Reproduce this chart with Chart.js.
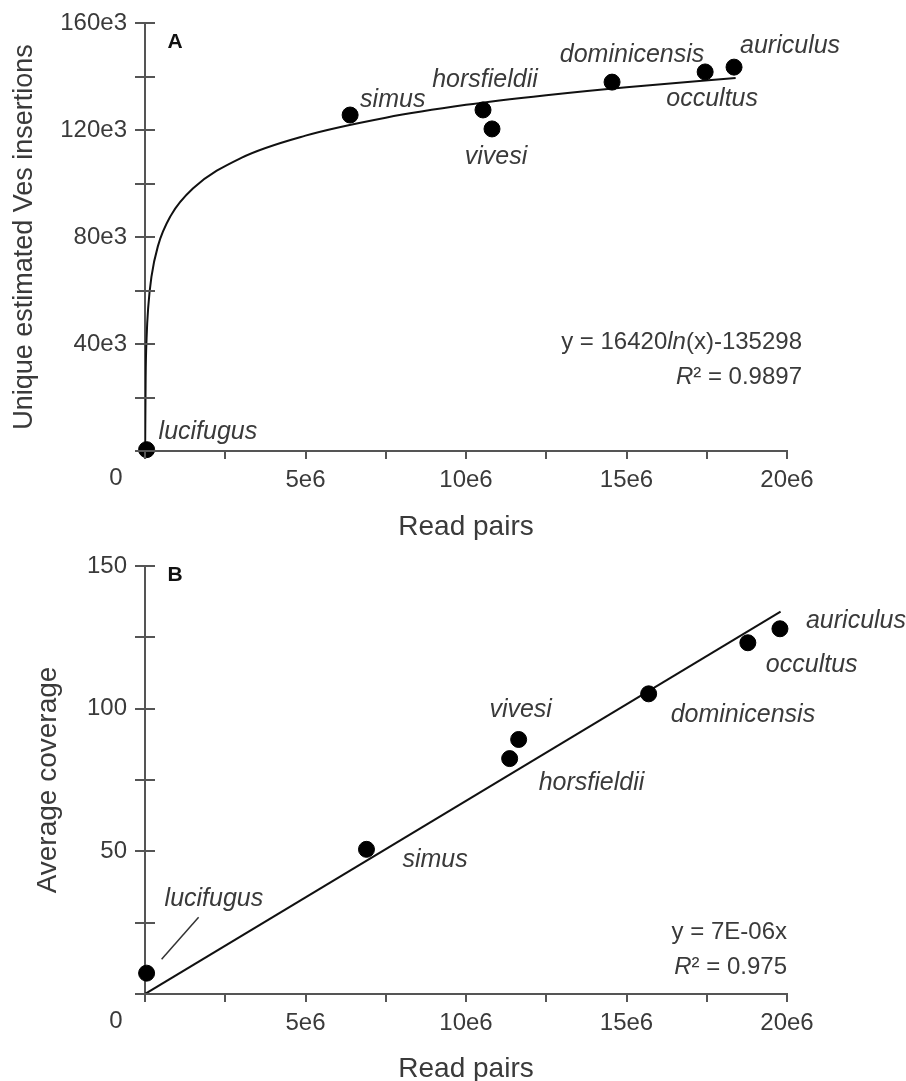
<!DOCTYPE html>
<html>
<head>
<meta charset="utf-8">
<script src="https://cdn.jsdelivr.net/npm/chart.js@4.4.0/dist/chart.umd.min.js"></script>
<style>
  body { margin: 0; background: #fff; }
  #wrapA { position: absolute; left: 0; top: 0; }
  #wrapB { position: absolute; left: 0; top: 540px; }
</style>
</head>
<body>
<div id="wrapA"><canvas id="chartA" width="906" height="540"></canvas></div>
<div id="wrapB"><canvas id="chartB" width="906" height="541"></canvas></div>
<script>
// species, same order in both panels
const species = ['lucifugus', 'simus', 'horsfieldii', 'vivesi', 'dominicensis', 'occultus', 'auriculus'];

// panel A: read pairs vs unique estimated Ves insertions
const readsA = [0.05e6, 6.39e6, 10.53e6, 10.81e6, 14.55e6, 17.45e6, 18.35e6];
const insertionsA = [500, 125600, 127500, 120400, 137900, 141700, 143500];

// log fit curve
const curveReadsA = [0.004e6, 0.02e6, 0.05e6, 0.1e6, 0.2e6, 0.4e6, 0.8e6, 1.5e6, 3e6, 5e6, 7.5e6, 10e6, 12.5e6, 15e6, 18.4e6];
const curveInsA = [0, 27300, 42400, 53700, 65100, 76500, 87900, 98200, 109600, 117900, 124600, 129400, 133000, 136000, 139400];

// panel B: read pairs vs average coverage
const readsB = [0.05e6, 6.9e6, 11.36e6, 11.64e6, 15.69e6, 18.78e6, 19.78e6];
const coverageB = [7.3, 50.7, 82.5, 89.2, 105.2, 123.1, 128];

// linear fit line ends
const fitReadsB = [0, 19.8e6];
const fitCoverageB = [0, 134];

const eqA = [['y = 16420', false], ['ln', true], ['(x)-135298', false]];
const r2A = [['R', true], ['² = 0.9897', false]];
const eqB = [['y = 7E-06x', false]];
const r2B = [['R', true], ['² = 0.975', false]];

// label placement relative to each point: dx, dy, align
const labelPosA = [[12, -18, 'left'], [10, -15, 'left'], [2, -30, 'center'], [4, 28, 'center'],
                   [20, -27, 'center'], [7, 27, 'center'], [6, -21, 'left']];
const labelPosB = [[18, -74, 'left'], [36, 11, 'left'], [29, 24, 'left'], [2, -29, 'center'],
                   [22, 21, 'left'], [18, 22, 'left'], [26, -8, 'left']];

const FONT = "'Liberation Sans', Arial, sans-serif";
const TEXT = '#3a3a3a';
const AXIS = '#555555';

function toPoints(xs, ys) {
  return xs.map((x, i) => ({ x: x, y: ys[i] }));
}

function drawRuns(ctx, runs, rightX, y, size) {
  var total = 0;
  runs.forEach(r => {
    ctx.font = (r[1] ? 'italic ' : '') + size + 'px ' + FONT;
    total += ctx.measureText(r[0]).width;
  });
  var x = rightX - total;
  ctx.textAlign = 'left';
  runs.forEach(r => {
    ctx.font = (r[1] ? 'italic ' : '') + size + 'px ' + FONT;
    ctx.fillText(r[0], x, y);
    x += ctx.measureText(r[0]).width;
  });
}

// tick marks, the "0" origin label, panel letter, point labels and equation
const decorPlugin = {
  id: 'decor',
  afterDraw(chart, args, opts) {
    const ctx = chart.ctx;
    const xs = chart.scales.x, ys = chart.scales.y;
    const area = chart.chartArea;
    ctx.save();
    ctx.strokeStyle = AXIS;
    ctx.lineWidth = 2;
    ys.ticks.forEach(t => {
      const py = Math.round(ys.getPixelForValue(t.value));
      ctx.beginPath();
      ctx.moveTo(area.left - 10, py);
      ctx.lineTo(area.left + 10, py);
      ctx.stroke();
    });
    xs.ticks.forEach(t => {
      const px = Math.round(xs.getPixelForValue(t.value));
      ctx.beginPath();
      ctx.moveTo(px, area.bottom);
      ctx.lineTo(px, area.bottom + 8);
      ctx.stroke();
    });

    ctx.fillStyle = TEXT;
    ctx.textBaseline = 'middle';
    ctx.font = '24px ' + FONT;
    ctx.textAlign = 'center';
    ctx.fillText('0', xs.getPixelForValue(0) - 29, area.bottom + 27);

    ctx.font = 'bold 21px ' + FONT;
    ctx.fillStyle = '#111';
    ctx.fillText(opts.letter, area.left + 30, area.top + opts.letterDy);

    // species labels
    ctx.fillStyle = TEXT;
    ctx.font = 'italic 25px ' + FONT;
    const meta = chart.getDatasetMeta(0);
    meta.data.forEach((el, i) => {
      const p = opts.labelPos[i];
      ctx.textAlign = p[2];
      ctx.fillText(species[i], el.x + p[0], el.y + p[1]);
    });
    if (opts.leader) {
      const el = meta.data[0];
      ctx.strokeStyle = '#333';
      ctx.lineWidth = 1.5;
      ctx.beginPath();
      ctx.moveTo(el.x + 15, el.y - 14);
      ctx.lineTo(el.x + 52, el.y - 56);
      ctx.stroke();
    }

    // fit equation
    drawRuns(ctx, opts.eq, opts.eqRight, opts.eqY, 24);
    drawRuns(ctx, opts.r2, opts.eqRight, opts.eqY + 35, 24);
    ctx.restore();
  }
};

function makeChart(id, cfg) {
  const canvas = document.getElementById(id);
  return new Chart(canvas.getContext('2d'), {
    type: 'scatter',
    data: {
      datasets: [{
        data: cfg.points,
        backgroundColor: '#000',
        borderColor: '#000',
        pointRadius: 8,
        pointHoverRadius: 8,
        clip: false,
        order: 0
      }, {
        type: 'line',
        data: cfg.fit,
        borderColor: '#111',
        borderWidth: 2,
        pointRadius: 0,
        fill: false,
        cubicInterpolationMode: 'monotone',
        order: 1
      }]
    },
    options: {
      responsive: false,
      animation: false,
      layout: { padding: { left: cfg.padLeft, top: cfg.padTop, right: 119, bottom: 0 } },
      plugins: {
        legend: { display: false },
        tooltip: { enabled: false },
        decor: cfg.decor
      },
      scales: {
        x: {
          type: 'linear',
          min: 0, max: 20e6,
          grid: { display: false, drawTicks: false },
          border: { display: true, color: AXIS, width: 2 },
          afterFit: s => { s.height = canvas.height - cfg.bottom; },
          ticks: {
            stepSize: 2.5e6,
            autoSkip: false,
            maxRotation: 0,
            padding: 15,
            color: TEXT,
            font: { family: FONT, size: 24 },
            callback: v => (v !== 0 && v % 5e6 === 0) ? (v / 1e6) + 'e6' : ''
          },
          title: {
            display: true,
            text: 'Read pairs',
            color: TEXT,
            font: { family: FONT, size: 28, lineHeight: 1 },
            padding: { top: 0, bottom: cfg.xTitlePad }
          }
        },
        y: {
          type: 'linear',
          min: 0, max: cfg.yMax,
          grid: { display: false, drawTicks: false },
          border: { display: true, color: AXIS, width: 2 },
          afterFit: s => {
            s.width = 145 - cfg.padLeft;
            s.paddingTop = 0;
            s.paddingBottom = 0;
          },
          ticks: {
            stepSize: cfg.yStep,
            autoSkip: false,
            padding: 18,
            color: TEXT,
            font: { family: FONT, size: 24 },
            callback: cfg.yLabel
          },
          title: {
            display: true,
            text: cfg.yTitle,
            color: TEXT,
            font: { family: FONT, size: cfg.yTitleSize, lineHeight: 1 },
            padding: { top: 4, bottom: 0 }
          }
        }
      }
    },
    plugins: [decorPlugin]
  });
}

makeChart('chartA', {
  points: toPoints(readsA, insertionsA),
  fit: toPoints(curveReadsA, curveInsA),
  padLeft: 7, padTop: 23, bottom: 451, xTitlePad: -1,
  yMax: 160000, yStep: 20000,
  yLabel: v => (v !== 0 && v % 40000 === 0) ? (v / 1000) + 'e3' : '',
  yTitle: 'Unique estimated Ves insertions', yTitleSize: 27,
  decor: { letter: 'A', letterDy: 19, labelPos: labelPosA, leader: false,
           eq: eqA, r2: r2A, eqRight: 802, eqY: 342 }
});

makeChart('chartB', {
  points: toPoints(readsB, coverageB),
  fit: toPoints(fitReadsB, fitCoverageB),
  padLeft: 30, padTop: 26, bottom: 454, xTitlePad: -2,
  yMax: 150, yStep: 25,
  yLabel: v => (v !== 0 && v % 50 === 0) ? String(v) : '',
  yTitle: 'Average coverage', yTitleSize: 28,
  decor: { letter: 'B', letterDy: 9, labelPos: labelPosB, leader: true,
           eq: eqB, r2: r2B, eqRight: 787, eqY: 932 - 540 }
});
</script>
</body>
</html>
